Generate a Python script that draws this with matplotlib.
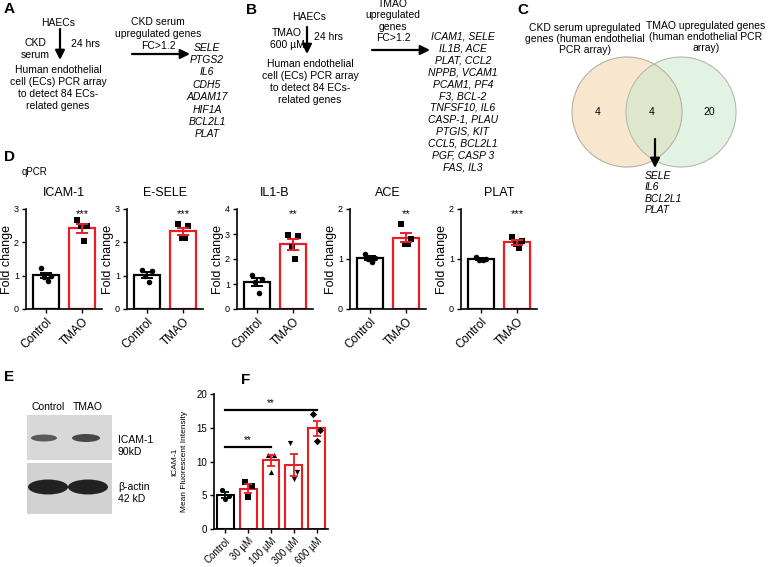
import numpy as np
import matplotlib.pyplot as plt
from matplotlib.patches import Circle, Rectangle, Ellipse

plt.rcParams['font.family'] = ['Liberation Sans', 'DejaVu Sans']

W, H = 768, 567

# ---- data ----
ckd_genes = ['SELE', 'PTGS2', 'IL6', 'CDH5', 'ADAM17', 'HIF1A', 'BCL2L1', 'PLAT']
tmao_genes = ['ICAM1, SELE', 'IL1B, ACE', 'PLAT, CCL2', 'NPPB, VCAM1', 'PCAM1, PF4',
              'F3, BCL-2', 'TNFSF10, IL6', 'CASP-1, PLAU', 'PTGIS, KIT', 'CCL5, BCL2L1',
              'PGF, CASP 3', 'FAS, IL3']
venn_counts = [4, 4, 20]
shared_genes = ['SELE', 'IL6', 'BCL2L1', 'PLAT']

qpcr_names = ['ICAM-1', 'E-SELE', 'IL1-B', 'ACE', 'PLAT']
qpcr_ctrl = [[1.23, 1.00, 0.97, 0.84],
             [1.17, 1.15, 1.00, 0.80],
             [1.35, 1.22, 1.08, 0.65],
             [1.10, 1.03, 1.00, 0.95],
             [1.05, 1.00, 0.99, 0.98]]
qpcr_tmao = [[2.68, 2.50, 2.48, 2.05],
             [2.54, 2.49, 2.14, 2.14],
             [2.95, 2.93, 2.50, 2.00],
             [1.70, 1.40, 1.30, 1.30],
             [1.44, 1.37, 1.31, 1.22]]
qpcr_ymax = [3, 3, 4, 2, 2]
qpcr_stars = ['***', '***', '**', '**', '***']
qpcr_groups = ['Control', 'TMAO']

blot_lanes = ['Control', 'TMAO']
blot_rows = ['ICAM-1\n90kD', 'β-actin\n42 kD']

f_groups = ['Control', '30 µM', '100 µM', '300 µM', '600 µM']
f_values = [[5.8, 4.9, 4.4],
            [6.9, 6.3, 4.7],
            [11.0, 11.0, 8.5],
            [12.7, 8.4, 7.4],
            [17.0, 14.7, 13.0]]
f_markers = ['o', 's', '^', 'v', 'D']
f_sig = [(0, 2, 12.2, '**'), (0, 4, 17.7, '**')]

RED = '#ec1c24'

fig = plt.figure(figsize=(W / 100, H / 100), dpi=100)
ov = fig.add_axes([0, 0, 1, 1])
ov.set_xlim(0, W)
ov.set_ylim(H, 0)
ov.axis('off')


def px_axes(x0, y0, x1, y1):
    return fig.add_axes([x0 / W, 1 - y1 / H, (x1 - x0) / W, (y1 - y0) / H])


def arrow(x0, y0, x1, y1):
    ov.annotate('', xy=(x1, y1), xytext=(x0, y0),
                arrowprops=dict(arrowstyle='-|>', lw=1.6, color='k', mutation_scale=14,
                                shrinkA=0, shrinkB=0))


def letter(x, y, s):
    ov.text(x, y, s, fontsize=11, fontweight='bold', va='center', ha='left')


def style_axes(ax):
    for s in ['top', 'right']:
        ax.spines[s].set_visible(False)
    for s in ['left', 'bottom']:
        ax.spines[s].set_linewidth(1.2)


fs = 7.5
# ---- panel A ----
letter(4, 9, 'A')
ov.text(58, 23, 'HAECs', fontsize=fs, ha='center', va='center')
ov.text(35, 49, 'CKD\nserum', fontsize=fs, ha='center', va='center', linespacing=1.3)
ov.text(71, 44, '24 hrs', fontsize=fs, ha='left', va='center')
arrow(60, 29, 60, 60)
ov.text(58, 88, 'Human endothelial\ncell (ECs) PCR array\nto detect 84 ECs-\nrelated genes',
        fontsize=fs, ha='center', va='center', linespacing=1.25)
ov.text(158, 34, 'CKD serum\nupregulated genes\nFC>1.2', fontsize=fs, ha='center', va='center',
        linespacing=1.2)
arrow(132, 54, 190, 54)
ov.text(207, 91, '\n'.join(ckd_genes), fontsize=fs, ha='center', va='center',
        style='italic', linespacing=1.3)

# ---- panel B ----
letter(246, 10, 'B')
ov.text(309, 17, 'HAECs', fontsize=fs, ha='center', va='center')
ov.text(287, 39, 'TMAO\n600 µM', fontsize=fs, ha='center', va='center', linespacing=1.3)
ov.text(314, 37, '24 hrs', fontsize=fs, ha='left', va='center')
arrow(307, 27, 307, 54)
ov.text(310, 82, 'Human endothelial\ncell (ECs) PCR array\nto detect 84 ECs-\nrelated genes',
        fontsize=fs, ha='center', va='center', linespacing=1.25)
ov.text(393, 21, 'TMAO\nupregulated\ngenes\nFC>1.2', fontsize=fs, ha='center', va='center',
        linespacing=1.15)
arrow(372, 50, 430, 50)
ov.text(463, 102, '\n'.join(tmao_genes), fontsize=fs, ha='center', va='center',
        style='italic', linespacing=1.23)

# ---- panel C ----
letter(517, 10, 'C')
ov.add_patch(Circle((627, 112), 55, facecolor='#f4d2a6', alpha=0.55, edgecolor='none'))
ov.add_patch(Circle((681, 112), 55, facecolor='#c6e9cb', alpha=0.5, edgecolor='none'))
ov.add_patch(Circle((627, 112), 55, facecolor='none', edgecolor='#b8b0a0', lw=0.8))
ov.add_patch(Circle((681, 112), 55, facecolor='none', edgecolor='#b8b8b0', lw=0.8))
for x, c in zip([598, 652, 709], venn_counts):
    ov.text(x, 112, str(c), fontsize=fs, ha='center', va='center')
ov.text(585, 39, 'CKD serum upregulated\ngenes (human endothelial\nPCR array)', fontsize=fs,
        ha='center', va='center', linespacing=1.15)
ov.text(706, 37, 'TMAO upregulated genes\n(human endothelial PCR\narray)', fontsize=fs,
        ha='center', va='center', linespacing=1.15)
arrow(655, 139, 655, 168)
ov.text(645, 193, '\n'.join(shared_genes), fontsize=fs, ha='left', va='center',
        style='italic', linespacing=1.2)

# ---- panel D ----
letter(4, 157, 'D')
ov.text(22, 172, 'qPCR', fontsize=7, ha='left', va='center')
d_x0 = [26, 127, 237, 350, 461]
offs = [-0.13, 0.13, -0.04, 0.06]
for i, name in enumerate(qpcr_names):
    ax = px_axes(d_x0[i], 209, d_x0[i] + 76, 309)
    for j, (vals, col, mk) in enumerate([(qpcr_ctrl[i], 'k', 'o'), (qpcr_tmao[i], RED, 's')]):
        v = np.array(vals)
        m = v.mean()
        sem = v.std(ddof=1) / np.sqrt(len(v))
        ax.bar(j, m, width=0.7, facecolor='white', edgecolor=col, lw=1.6, zorder=1)
        ax.scatter(j + np.array(offs), v, marker=mk, s=16, color='k', zorder=3, linewidths=0)
        ax.errorbar(j, m, yerr=sem, color=col, capsize=4, lw=1.4, capthick=1.4, zorder=4)
    ax.text(1, qpcr_ymax[i] * 0.95, qpcr_stars[i], ha='center', va='center', fontsize=8)
    ax.set_xlim(-0.55, 1.55)
    ax.set_ylim(0, qpcr_ymax[i])
    ax.set_yticks(range(qpcr_ymax[i] + 1))
    ax.set_xticks([0, 1])
    ax.set_xticklabels(qpcr_groups, rotation=45, ha='right', rotation_mode='anchor', fontsize=8.5)
    ax.set_ylabel('Fold change', fontsize=9, labelpad=1)
    ax.set_title(name, fontsize=9, pad=9)
    ax.tick_params(axis='y', labelsize=6.5, length=3, width=1, pad=2)
    ax.tick_params(axis='x', length=3, width=1, pad=2)
    style_axes(ax)

# ---- panel E ----
letter(4, 377, 'E')
for k, lane in enumerate(blot_lanes):
    ov.text([48, 88][k], 407, lane, fontsize=7.5, ha='center', va='center')
ov.add_patch(Rectangle((27, 415), 85, 45, facecolor='#d8d8d8', edgecolor='none'))
ov.add_patch(Rectangle((27, 463), 85, 51, facecolor='#d2d2d2', edgecolor='none'))
ov.add_patch(Ellipse((44, 438), 26, 7, facecolor='#5a5a5a', edgecolor='none'))
ov.add_patch(Ellipse((86, 438), 28, 8, facecolor='#474747', edgecolor='none'))
ov.add_patch(Ellipse((48, 487), 40, 15, facecolor='#222222', edgecolor='none'))
ov.add_patch(Ellipse((88, 487), 40, 15, facecolor='#222222', edgecolor='none'))
ov.text(118, 446, blot_rows[0], fontsize=7.5, ha='left', va='center', linespacing=1.3)
ov.text(118, 493, blot_rows[1], fontsize=7.5, ha='left', va='center', linespacing=1.3)

# ---- panel F ----
letter(241, 380, 'F')
ax = px_axes(214, 394, 328, 529)
for j, vals in enumerate(f_values):
    v = np.array(vals)
    m = v.mean()
    sem = v.std(ddof=1) / np.sqrt(len(v))
    col = 'k' if j == 0 else RED
    ax.bar(j, m, width=0.74, facecolor='white', edgecolor=col, lw=1.5, zorder=1)
    ax.scatter(j + np.array([-0.15, 0.15, 0.0]), v, marker=f_markers[j], s=14, color='k',
               zorder=3, linewidths=0)
    ax.errorbar(j, m, yerr=sem, color=col, capsize=3, lw=1.3, capthick=1.3, zorder=4)
for a, b, y, s in f_sig:
    ax.plot([a, b], [y, y], color='k', lw=1.6)
    ax.text((a + b) / 2, y + 0.2, s, ha='center', va='bottom', fontsize=7)
ax.set_xlim(-0.5, 4.5)
ax.set_ylim(0, 20)
ax.set_yticks([0, 5, 10, 15, 20])
ax.set_xticks(range(len(f_groups)))
ax.set_xticklabels(f_groups, rotation=45, ha='right', rotation_mode='anchor', fontsize=7)
ax.set_ylabel('ICAM-1\nMean Fluorescent Intensity', fontsize=6, labelpad=6, linespacing=1.6)
ax.tick_params(axis='y', labelsize=7, length=3, width=1, pad=2)
ax.tick_params(axis='x', length=3, width=1, pad=2)
style_axes(ax)

fig.savefig('out.png', dpi=100)
